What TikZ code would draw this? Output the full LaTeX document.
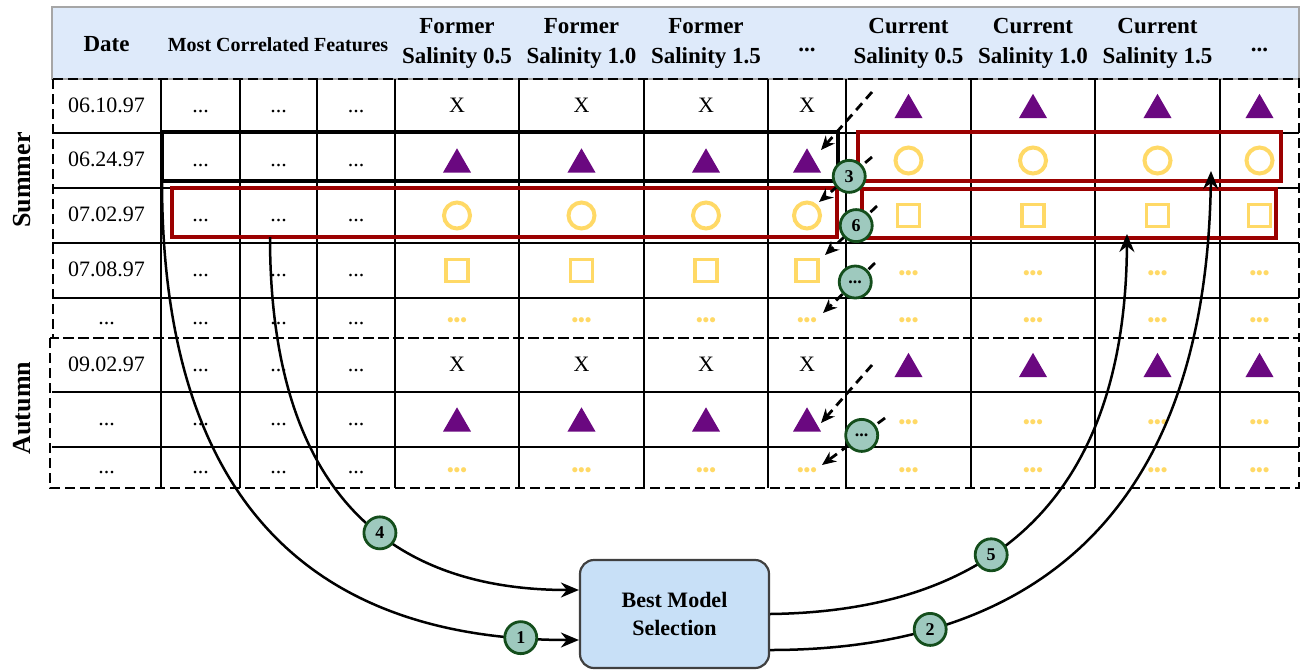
\documentclass[tikz,border=0pt]{standalone}
\usepackage{fontspec}
\setmainfont{Liberation Serif}
\usetikzlibrary{arrows.meta, positioning, shapes}
\definecolor{headblue}{RGB}{222,234,250}
\definecolor{boxblue}{RGB}{200,224,247}
\definecolor{markpurple}{RGB}{106,8,128}
\definecolor{markyellow}{RGB}{255,217,102}
\definecolor{boxred}{RGB}{155,0,0}
\definecolor{stepteal}{RGB}{158,201,190}
\definecolor{stepgreen}{RGB}{20,78,28}
\newcommand{\celldots}{...}
\tikzstyle{cell} = [inner sep=0pt, text height=1.6ex, text depth=.25ex, font=\fontsize{11}{13}\selectfont]
\tikzstyle{head} = [align=center, inner sep=0pt, font=\fontsize{11.5}{15}\selectfont\bfseries]
\tikzstyle{xmark} = [cell]
\tikzstyle{dotmark} = [inner sep=0pt, yshift=-2.2pt, text=markyellow, font=\fontsize{9.5}{9.5}\selectfont\bfseries]
\tikzstyle{trimark} = [regular polygon, regular polygon sides=3, fill=markpurple, minimum size=16.2pt, inner sep=0pt, yshift=-2pt]
\tikzstyle{ringmark} = [circle, draw=markyellow, line width=2pt, minimum size=13pt, inner sep=0pt]
\tikzstyle{sqmark} = [rectangle, draw=markyellow, line width=1.75pt, minimum size=11pt, inner sep=0pt]
\tikzstyle{selblack} = [draw, line width=1.6pt, inner sep=0pt, outer sep=0pt, minimum height=24.5pt]
\tikzstyle{selred} = [selblack, draw=boxred]
\tikzstyle{stepnum} = [solid, circle, draw=stepgreen, fill=stepteal, line width=1.4pt, minimum size=16pt, inner sep=0pt, font=\fontsize{9}{9}\selectfont\bfseries]
\tikzstyle{handover} = [-{Stealth[length=7pt,width=6pt]}, line width=1.4pt, dash pattern=on 4.5pt off 3pt]
\tikzstyle{flow} = [->, line width=1.25pt]
\tikzstyle{gridline} = [line width=0.75pt]
\tikzstyle{groupline} = [line width=1.3pt, dash pattern=on 5pt off 2.5pt]
\tikzstyle{model} = [draw=black!75, fill=boxblue, rounded corners=7pt, line width=1.1pt, minimum width=94.5pt, minimum height=54pt, align=center, font=\fontsize{11}{14}\selectfont\bfseries]

\begin{document}
\begin{tikzpicture}[x=0.5pt, y=-0.5pt, >={Stealth[length=9pt,width=7.5pt]}]
    \useasboundingbox (0,0) rectangle (1301,670);

    % Header row
    \draw [fill=headblue, draw=black!35, line width=0.6pt] (52,7) rectangle (1299,79);
    \node [head] (hdate) at (106.5,44) {Date};
    \node [head, font=\fontsize{10}{12}\selectfont\bfseries] (hfeat) at (278,45) {Most Correlated Features};
    \node [head] (hf1) at (457,43) {Former\\Salinity 0.5};
    \node [head] (hf2) at (581.5,43) {Former\\Salinity 1.0};
    \node [head] (hf3) at (706,43) {Former\\Salinity 1.5};
    \node [head] (hf4) at (807,50) {...};
    \node [head] (hc1) at (908.5,43) {Current\\Salinity 0.5};
    \node [head] (hc2) at (1033,43) {Current\\Salinity 1.0};
    \node [head] (hc3) at (1157.5,43) {Current\\Salinity 1.5};
    \node [head] (hc4) at (1259.5,50) {...};

    % Grid
    \foreach \y in {133,188,243,298,392,447}
        \draw [gridline] (52,\y) -- (1299,\y);
    \foreach \x in {161,240,317,395,519,644,768,846,971,1095,1220}
        \draw [gridline] (\x,79) -- (\x,488);
    \draw [groupline] (53,79) rectangle (1299,338);
    \draw [groupline] (50,338) rectangle (1299,488);

    \node [rotate=90, font=\fontsize{13}{13}\selectfont\bfseries] (summer) at (22,180) {Summer};
    \node [rotate=90, font=\fontsize{13}{13}\selectfont\bfseries] (autumn) at (22,408) {Autumn};

    % Table rows
    \foreach \row/\y/\dt/\fs/\ft/\cs/\ct in {
        1/106/06.10.97/xmark/X/trimark/{},
        2/160.5/06.24.97/trimark/{}/ringmark/{},
        3/215.5/07.02.97/ringmark/{}/sqmark/{},
        4/270.5/07.08.97/sqmark/{}/dotmark/•••,
        5/318/\celldots/dotmark/•••/dotmark/•••,
        6/365/09.02.97/xmark/X/trimark/{},
        7/419.5/\celldots/trimark/{}/dotmark/•••,
        8/467.5/\celldots/dotmark/•••/dotmark/•••} {
        \node [cell] (d\row) at (106.5,\y) {\dt};
        \foreach \x [count=\col] in {200.5,278.5,356}
            \node [cell] (m\row-\col) at (\x,\y) {\celldots};
        \foreach \x [count=\col] in {457,581.5,706,807}
            \node [\fs] (f\row-\col) at (\x,\y) {\ft};
        \foreach \x [count=\col] in {908.5,1033,1157.5,1259.5}
            \node [\cs] (c\row-\col) at (\x,\y) {\ct};
    }

    % Selected rows
    \node [selblack, minimum width=338pt] (prevA) at (500,156.5) {};
    \node [selred, minimum width=332.5pt] (prevB) at (504.5,212.5) {};
    \node [selred, minimum width=211.5pt] (currA) at (1069.5,156.5) {};
    \node [selred, minimum width=207pt] (currB) at (1069,213.5) {};

    % Model block
    \node [model] (best) at (674.5,614) {Best Model\\Selection};

    % Steps through the model
    \draw [flow] (prevA.south west) .. controls (162,520) and (330,640) .. node[stepnum, pos=.92] (n1) {1} ([yshift=-13pt]best.west);
    \draw [flow] ([yshift=-18pt]best.east) .. controls (960,650) and (1205,580) .. node[stepnum, pos=.27] (n2) {2} ([xshift=176.5pt,yshift=5pt]currA.south west);
    \draw [flow] ([xshift=49pt]prevB.south west) .. controls (270,470) and (370,590) .. node[stepnum, pos=.6] (n4) {4} ([yshift=12pt]best.west);
    \draw [flow] (best.east) .. controls (920,612) and (1125,560) .. node[stepnum, pos=.47] (n5) {5} ([xshift=132.5pt,yshift=2pt]currB.south west);

    % Hand-over to the next row
    \foreach \i/\sx/\sy/\ex/\ey in {a/872/92/821/150, e/872/365/821/423} {
        \coordinate (h\i-s) at (\sx,\sy);
        \coordinate (h\i-e) at (\ex,\ey);
        \draw [handover] (h\i-s) -- (h\i-e);
    }
    \foreach \i/\sx/\sy/\ex/\ey/\p/\lab in {b/872/157/819/202/.43/3, c/877/206/825/255/.4/6,
            d/875/263/823/313/.38/\celldots, f/885/418/822/465/.37/\celldots} {
        \coordinate (h\i-s) at (\sx,\sy);
        \coordinate (h\i-e) at (\ex,\ey);
        \draw [handover] (h\i-s) -- node[stepnum, pos=\p] (n\i) {\lab} (h\i-e);
    }
\end{tikzpicture}
\end{document}
